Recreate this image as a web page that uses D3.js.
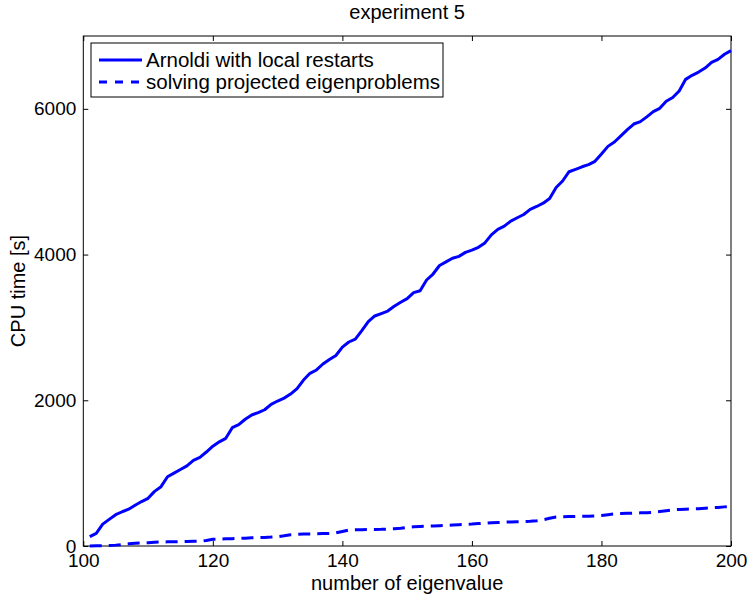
<!DOCTYPE html>
<html>
<head>
<meta charset="utf-8">
<script src="https://cdn.jsdelivr.net/npm/d3@7"></script>
<style>
  body { margin: 0; background: #fff; }
  text { font-family: "Liberation Sans", Arial, sans-serif; fill: #000; }
</style>
</head>
<body>
<div id="chart"></div>
<script>
// eigenvalue numbers (x) and CPU times
const eigenNumbers = d3.range(101, 201);
const arnoldiTimes = [
  128, 174, 300, 366, 430, 470, 505, 560, 610, 654,
  750, 814, 950, 1000, 1050, 1100, 1175, 1217, 1290, 1370,
  1430, 1478, 1624, 1665, 1740, 1798, 1830, 1870, 1945, 1990,
  2030, 2085, 2160, 2278, 2370, 2416, 2498, 2560, 2615, 2730,
  2800, 2840, 2955, 3079, 3157, 3190, 3225, 3290, 3345, 3395,
  3477, 3504, 3651, 3733, 3850, 3900, 3950, 3975, 4030, 4060,
  4100, 4160, 4270, 4345, 4390, 4460, 4505, 4550, 4621, 4660,
  4705, 4770, 4920, 5010, 5137, 5170, 5205, 5235, 5280, 5380,
  5485, 5545, 5630, 5715, 5792, 5825, 5890, 5961, 6007, 6105,
  6155, 6245, 6405, 6460, 6505, 6560, 6638, 6680, 6750, 6800
];
const projectedTimes = [
  0, 2, 5, 8, 12, 20, 30, 38, 42, 46,
  52, 55, 57, 58, 60, 62, 64, 66, 75, 92,
  95, 98, 100, 104, 108, 112, 115, 118, 122, 128,
  140, 155, 160, 163, 166, 168, 170, 173, 180, 200,
  220, 222, 224, 226, 228, 229, 232, 236, 243, 255,
  265, 268, 271, 275, 279, 283, 288, 293, 298, 302,
  308, 315, 320, 323, 327, 330, 333, 336, 340, 346,
  360, 380, 398, 402, 404, 406, 408, 410, 412, 418,
  430, 440, 445, 449, 452, 455, 457, 462, 472, 484,
  495, 502, 506, 509, 512, 518, 525, 530, 537, 542
];
const xTicks = [100, 120, 140, 160, 180, 200];
const yTicks = [0, 2000, 4000, 6000];
const legendLabels = ["Arnoldi with local restarts", "solving projected eigenproblems"];

const width = 749, height = 594;
const mLeft = 83.3, mRight = 731, mTop = 36, mBottom = 546;

const svg = d3.select("#chart").append("svg")
  .attr("width", width)
  .attr("height", height);

const x = d3.scaleLinear().domain([100, 200]).range([mLeft, mRight]);
const y = d3.scaleLinear().domain([0, 7000]).range([mBottom, mTop]);

// ejes con ticks hacia dentro, estilo MATLAB
const fs = "20px";
const tickFs = "19px";
svg.append("g")
  .attr("transform", `translate(0,${mBottom})`)
  .call(d3.axisBottom(x).tickValues(xTicks).tickSize(-5).tickFormat(d3.format("d")))
  .call(g => g.select(".domain").remove())
  .call(g => g.selectAll("text").attr("font-size", tickFs).attr("dy", 0).attr("y", 21));

svg.append("g")
  .attr("transform", `translate(${mLeft},0)`)
  .call(d3.axisLeft(y).tickValues(yTicks).tickSize(-5).tickPadding(7).tickFormat(d3.format("d")))
  .call(g => g.select(".domain").remove())
  .call(g => g.selectAll("text").attr("font-size", tickFs));

svg.append("g")
  .attr("transform", `translate(0,${mTop})`)
  .call(d3.axisTop(x).tickValues(xTicks).tickSize(-5).tickFormat(""))
  .call(g => g.select(".domain").remove());

svg.append("g")
  .attr("transform", `translate(${mRight},0)`)
  .call(d3.axisRight(y).tickValues(yTicks).tickSize(-5).tickFormat(""))
  .call(g => g.select(".domain").remove());

svg.selectAll(".tick line").attr("stroke", "#000");

// marco
svg.append("rect")
  .attr("x", mLeft).attr("y", mTop)
  .attr("width", mRight - mLeft).attr("height", mBottom - mTop)
  .attr("fill", "none").attr("stroke", "#000").attr("stroke-width", 1);

// curvas
const line = d3.line().x((d, i) => x(eigenNumbers[i])).y(d => y(d));

svg.append("path")
  .datum(arnoldiTimes)
  .attr("d", line)
  .attr("fill", "none")
  .attr("stroke", "#0000ff")
  .attr("stroke-width", 3)
  .attr("stroke-linejoin", "round");

svg.append("path")
  .datum(projectedTimes)
  .attr("d", line)
  .attr("fill", "none")
  .attr("stroke", "#0000ff")
  .attr("stroke-width", 3)
  .attr("stroke-dasharray", "12,7");

// títulos
svg.append("text")
  .attr("x", (mLeft + mRight) / 2).attr("y", 19)
  .attr("text-anchor", "middle").attr("font-size", fs)
  .text("experiment 5");

svg.append("text")
  .attr("x", (mLeft + mRight) / 2).attr("y", 590)
  .attr("text-anchor", "middle").attr("font-size", fs)
  .text("number of eigenvalue");

svg.append("text")
  .attr("transform", `translate(25,${(mTop + mBottom) / 2}) rotate(-90)`)
  .attr("text-anchor", "middle").attr("font-size", fs)
  .text("CPU time [s]");

// leyenda
const legend = svg.append("g");
legend.append("rect")
  .attr("x", 91).attr("y", 43).attr("width", 352).attr("height", 54)
  .attr("fill", "#fff").attr("stroke", "#000").attr("stroke-width", 1);

legendLabels.forEach((label, i) => {
  const ly = 60 + i * 22;
  legend.append("line")
    .attr("x1", 99).attr("x2", 142).attr("y1", ly).attr("y2", ly)
    .attr("stroke", "#0000ff").attr("stroke-width", 3)
    .attr("stroke-dasharray", i === 1 ? "8,8" : null);
  legend.append("text")
    .attr("x", 146).attr("y", ly + 7)
    .attr("font-size", "20.5px")
    .text(label);
});
</script>
</body>
</html>
